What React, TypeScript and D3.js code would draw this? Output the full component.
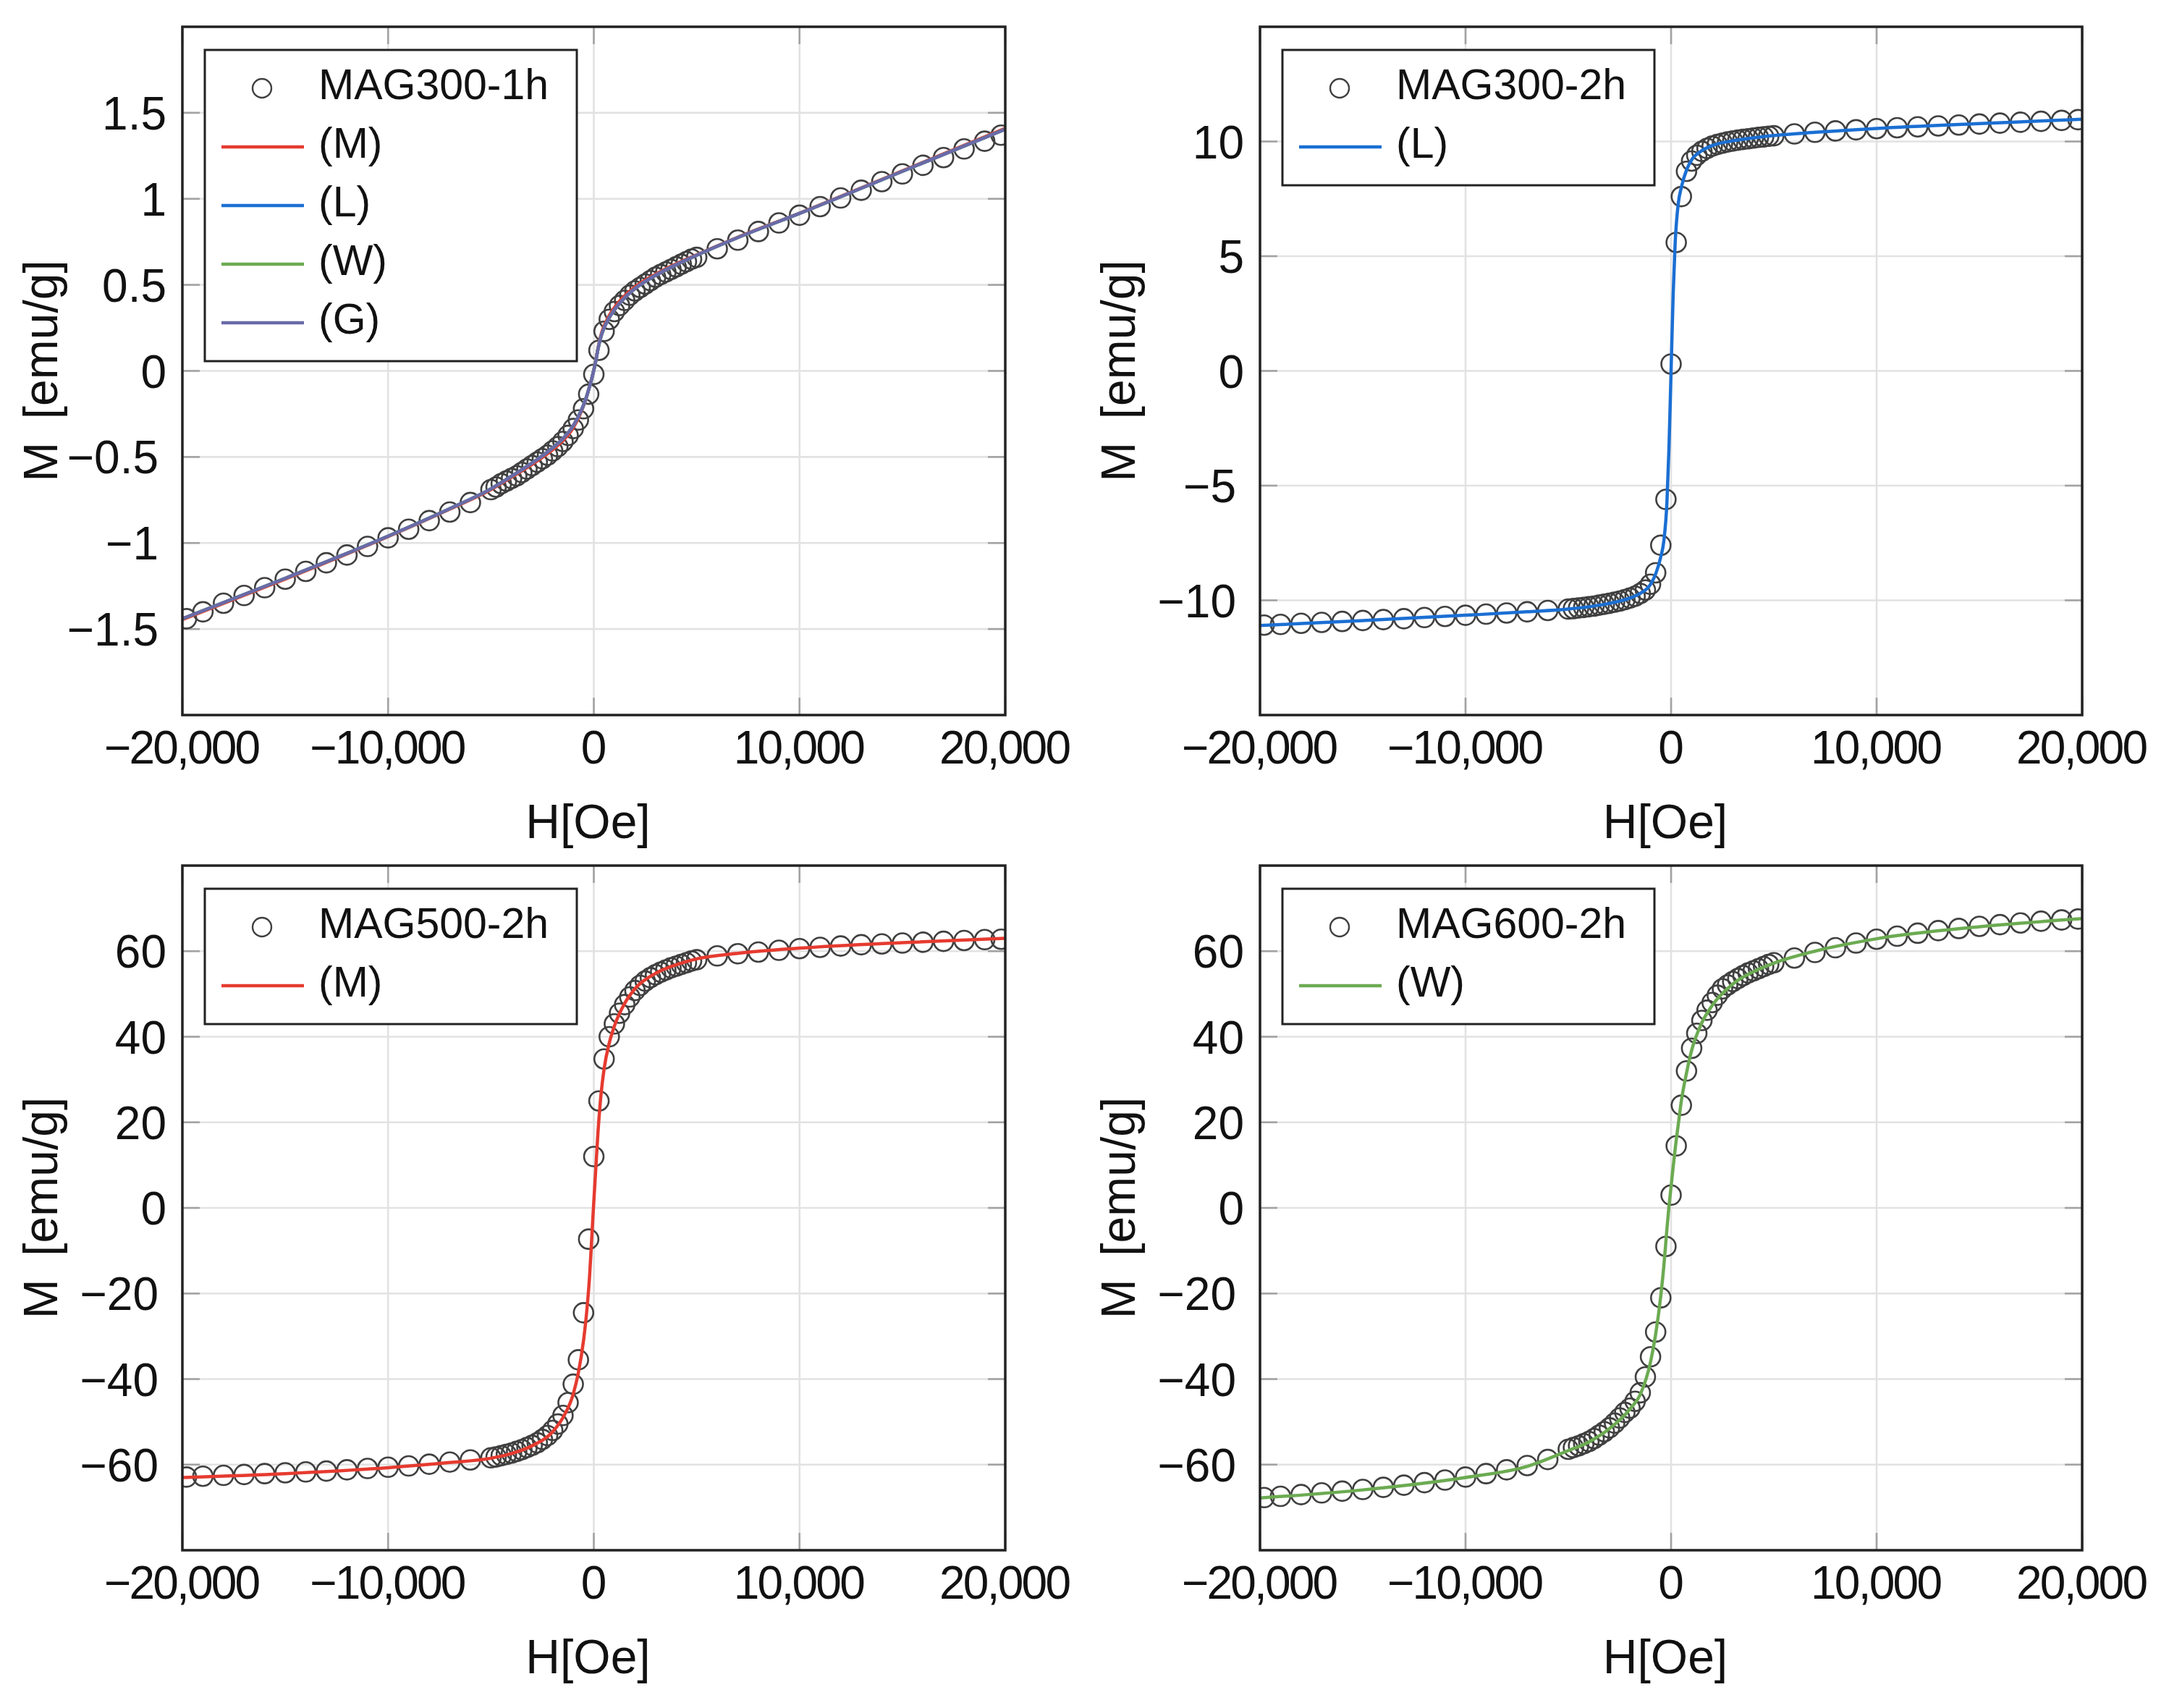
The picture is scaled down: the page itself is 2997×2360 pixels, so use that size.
import React from "react";
import * as d3 from "d3";

// applied field grid shared by the four measurements [Oe]
const fieldOe = [
  -19800, -19000, -18000, -17000, -16000, -15000, -14000, -13000, -12000, -11000, -10000, -9000, -8000, -7000, -6000,
  -5000, -4750, -4500, -4250, -4000, -3750, -3500, -3250, -3000, -2750, -2500, -2250, -2000, -1750, -1500, -1250, -1000, -750, -500, -250,
  0,
  250, 500, 750, 1000, 1250, 1500, 1750, 2000, 2250, 2500, 2750, 3000, 3250, 3500, 3750, 4000, 4250, 4500, 4750, 5000,
  6000, 7000, 8000, 9000, 10000, 11000, 12000, 13000, 14000, 15000, 16000, 17000, 18000, 19000, 19800,
];

// measured magnetisation [emu/g]
const mag300_1h = [
  -1.44, -1.4, -1.35, -1.305, -1.26, -1.21, -1.165, -1.115, -1.07, -1.02, -0.97, -0.92, -0.87, -0.82, -0.765,
  -0.69, -0.675, -0.655, -0.64, -0.625, -0.61, -0.59, -0.57, -0.55, -0.53, -0.51, -0.49, -0.465, -0.44, -0.41, -0.375, -0.335, -0.285, -0.22, -0.135,
  -0.02,
  0.12, 0.23, 0.3, 0.345, 0.38, 0.41, 0.44, 0.465, 0.485, 0.505, 0.525, 0.545, 0.56, 0.575, 0.59, 0.605, 0.62, 0.635, 0.65, 0.66,
  0.71, 0.76, 0.81, 0.86, 0.905, 0.955, 1.005, 1.05, 1.1, 1.145, 1.195, 1.24, 1.29, 1.335, 1.37,
];
const mag300_2h = [
  -11.08, -11.05, -11.0, -10.96, -10.92, -10.88, -10.84, -10.8, -10.75, -10.7, -10.65, -10.6, -10.55, -10.5, -10.44,
  -10.38, -10.36, -10.33, -10.31, -10.28, -10.25, -10.21, -10.17, -10.13, -10.08, -10.03, -9.97, -9.9, -9.82, -9.7, -9.55, -9.3, -8.8, -7.6, -5.6,
  0.3,
  5.6, 7.6, 8.7, 9.15, 9.4, 9.57, 9.7, 9.8, 9.87, 9.93, 9.98, 10.02, 10.06, 10.09, 10.12, 10.15, 10.18, 10.2, 10.23, 10.25,
  10.33, 10.4, 10.46, 10.51, 10.56, 10.6, 10.64, 10.68, 10.72, 10.76, 10.8, 10.84, 10.88, 10.92, 10.95,
];
const mag500_2h = [
  -62.9, -62.7, -62.5, -62.3, -62.1, -61.9, -61.7, -61.5, -61.2, -60.9, -60.6, -60.3, -59.9, -59.4, -58.9,
  -58.4, -58.2, -57.9, -57.6, -57.3, -56.9, -56.5, -56.0, -55.5, -54.9, -54.1, -53.2, -52.0, -50.5, -48.5, -45.5, -41.2, -35.5, -24.5, -7.3,
  12,
  25, 34.8, 40, 43, 45.5, 47.5, 49.3, 50.8, 52, 53, 53.8, 54.5, 55.1, 55.6, 56.1, 56.5, 56.9, 57.3, 57.7, 58,
  58.9, 59.4, 59.8, 60.2, 60.6, 60.9, 61.2, 61.5, 61.7, 61.9, 62.1, 62.3, 62.5, 62.7, 62.8,
];
const mag600_2h = [
  -67.7, -67.4, -67.0, -66.6, -66.2, -65.8, -65.3, -64.8, -64.2, -63.6, -62.9, -62.1, -61.2, -60.2, -58.8,
  -56.4, -56.0, -55.6, -55.1, -54.6, -53.9, -53.1, -52.3, -51.4, -50.3, -49.1, -47.8, -46.8, -45.2, -43.2, -39.5, -34.8, -29.0, -21.0, -9.0,
  3.0,
  14.5, 24.0, 32.0, 37.3, 40.8, 43.8, 46.2, 48.0, 49.7, 51.2, 52.1, 52.9, 53.6, 54.3, 54.9, 55.4, 55.9, 56.4, 56.9, 57.3,
  58.4, 59.7, 60.8, 61.9, 62.8, 63.5, 64.2, 64.8, 65.3, 65.8, 66.2, 66.6, 67.0, 67.3, 67.5,
];

// field grid of the fitted model curves [Oe]
const fitOe = [
  -20000, -15000, -10000, -7000, -5000, -4000, -3000, -2000, -1500, -1000, -750, -500, -350, -200, -100,
  0, 100, 200, 350, 500, 750, 1000, 1500, 2000, 3000, 4000, 5000, 7000, 10000, 15000, 20000,
];
const fit300_1h_M = [
  -1.445, -1.21, -0.963, -0.803, -0.69, -0.618, -0.543, -0.458, -0.405, -0.33, -0.275, -0.203, -0.15, -0.087, -0.043,
  0.005, 0.065, 0.13, 0.21, 0.262, 0.322, 0.368, 0.437, 0.488, 0.562, 0.622, 0.675, 0.777, 0.917, 1.163, 1.41,
];
const fit300_1h_G = [
  -1.44, -1.205, -0.96, -0.8, -0.685, -0.612, -0.535, -0.447, -0.393, -0.318, -0.265, -0.198, -0.148, -0.088, -0.045,
  0.005, 0.06, 0.125, 0.2, 0.25, 0.31, 0.355, 0.425, 0.478, 0.555, 0.617, 0.672, 0.775, 0.915, 1.16, 1.405,
];
const fit300_2h_L = [
  -11.1, -10.88, -10.65, -10.5, -10.38, -10.28, -10.13, -9.9, -9.7, -9.3, -8.85, -8.1, -7.4, -5.7, -3.3,
  0, 3.3, 5.6, 7.3, 8.0, 8.75, 9.2, 9.6, 9.82, 10.03, 10.16, 10.26, 10.4, 10.57, 10.78, 10.97,
];
const fit500_2h_M = [
  -63.0, -62.1, -60.7, -59.5, -58.5, -57.4, -55.6, -52.3, -49.0, -43.5, -38.5, -31, -24.5, -15.5, -7,
  1.5, 9.5, 17.5, 26.5, 32.5, 38.5, 42.5, 47.8, 51.2, 54.8, 56.8, 58.2, 59.5, 60.7, 62.0, 63.0,
];
const fit600_2h_W = [
  -67.8, -65.9, -63.0, -60.4, -56.7, -54.7, -51.6, -47.0, -43.6, -36.0, -29.5, -20.5, -13.5, -4.8, 0.5,
  5.0, 9.5, 13.8, 19.5, 25.0, 31.5, 36.8, 43.3, 47.3, 52.3, 55.2, 57.2, 60.0, 62.9, 65.7, 67.6,
];

// axis ticks
const xTicks = [-20000, -10000, 0, 10000, 20000];
const yTicks300_1h = [-1.5, -1, -0.5, 0, 0.5, 1, 1.5];
const yTicks300_2h = [-10, -5, 0, 5, 10];
const yTicksHigh = [-60, -40, -20, 0, 20, 40, 60];

const RED = "#e63b30";
const BLUE = "#1b6fd3";
const GREEN = "#6cab52";
const PURPLE = "#6a6aa9";
const FONT = "'Liberation Sans', Arial, Helvetica, sans-serif";
const TICK_FS = 64;
const TITLE_FS = 66;
const LEGEND_FS = 59;

type Fit = { label: string; color: string; values: number[] };
type PanelSpec = {
  id: string;
  x0: number; x1: number; y0: number; y1: number;
  yDomain: [number, number];
  yTicks: number[];
  sample: string;
  data: number[];
  fits: Fit[];
};

const panels: PanelSpec[] = [
  {
    id: "p1", x0: 252, x1: 1389, y0: 37, y1: 988, yDomain: [-2, 2], yTicks: yTicks300_1h,
    sample: "MAG300-1h", data: mag300_1h,
    fits: [
      { label: "(M)", color: RED, values: fit300_1h_M },
      { label: "(L)", color: BLUE, values: fit300_1h_G },
      { label: "(W)", color: GREEN, values: fit300_1h_G },
      { label: "(G)", color: PURPLE, values: fit300_1h_G },
    ],
  },
  {
    id: "p2", x0: 1741, x1: 2877, y0: 37, y1: 988, yDomain: [-15, 15], yTicks: yTicks300_2h,
    sample: "MAG300-2h", data: mag300_2h,
    fits: [{ label: "(L)", color: BLUE, values: fit300_2h_L }],
  },
  {
    id: "p3", x0: 252, x1: 1389, y0: 1196, y1: 2142, yDomain: [-80, 80], yTicks: yTicksHigh,
    sample: "MAG500-2h", data: mag500_2h,
    fits: [{ label: "(M)", color: RED, values: fit500_2h_M }],
  },
  {
    id: "p4", x0: 1741, x1: 2877, y0: 1196, y1: 2142, yDomain: [-80, 80], yTicks: yTicksHigh,
    sample: "MAG600-2h", data: mag600_2h,
    fits: [{ label: "(W)", color: GREEN, values: fit600_2h_W }],
  },
];

const minus = (v: number) => (v < 0 ? "\u2212" : "");
const fmtX = (v: number) => minus(v) + d3.format(",")(Math.abs(v));
const fmtY = (v: number) => minus(v) + String(Math.abs(v));
// the thousands comma sits tight between the digits, as in the original
const xLabelWidth = (v: number) => (v === 0 ? undefined : v < 0 ? 216 : 182);

function Panel({ p }: { p: PanelSpec }) {
  const x = d3.scaleLinear().domain([-20000, 20000]).range([p.x0, p.x1]);
  const y = d3.scaleLinear().domain(p.yDomain).range([p.y1, p.y0]);
  const line = d3
    .line<number>()
    .x((_, i) => x(fitOe[i]))
    .y((d) => y(d))
    .curve(d3.curveMonotoneX);
  const tickLen = 24;
  const cx = (p.x0 + p.x1) / 2;
  const cy = (p.y0 + p.y1) / 2;

  const lx = p.x0 + 31;
  const ly = p.y0 + 32;
  const rows = 1 + p.fits.length;
  const lh = 53 + (rows - 1) * 81 + 53;
  const rowY = (i: number) => ly + 53 + i * 81;

  return (
    <g>
      <defs>
        <clipPath id={`clip-${p.id}`}>
          <rect x={p.x0} y={p.y0} width={p.x1 - p.x0} height={p.y1 - p.y0} />
        </clipPath>
      </defs>
      {/* grid */}
      {xTicks.map((t) => (
        <line key={`gx${t}`} x1={x(t)} x2={x(t)} y1={p.y0} y2={p.y1} stroke="#e2e2e2" strokeWidth={2.6} />
      ))}
      {p.yTicks.map((t) => (
        <line key={`gy${t}`} x1={p.x0} x2={p.x1} y1={y(t)} y2={y(t)} stroke="#e2e2e2" strokeWidth={2.6} />
      ))}
      {/* inner ticks */}
      {xTicks.map((t) => (
        <g key={`tx${t}`} stroke="#a3a3a3" strokeWidth={2.6}>
          <line x1={x(t)} x2={x(t)} y1={p.y1} y2={p.y1 - tickLen} />
          <line x1={x(t)} x2={x(t)} y1={p.y0} y2={p.y0 + tickLen} />
        </g>
      ))}
      {p.yTicks.map((t) => (
        <g key={`ty${t}`} stroke="#a3a3a3" strokeWidth={2.6}>
          <line x1={p.x0} x2={p.x0 + tickLen} y1={y(t)} y2={y(t)} />
          <line x1={p.x1} x2={p.x1 - tickLen} y1={y(t)} y2={y(t)} />
        </g>
      ))}
      <g clipPath={`url(#clip-${p.id})`}>
        {p.data.map((m, i) => (
          <circle key={i} cx={x(fieldOe[i])} cy={y(m)} r={13.5} fill="none" stroke="#404040" strokeWidth={2.6} />
        ))}
        {p.fits.map((f) => (
          <path key={f.label} d={line(f.values) || ""} fill="none" stroke={f.color} strokeWidth={4.5} />
        ))}
      </g>
      {/* legend */}
      <rect x={lx} y={ly} width={514} height={lh} fill="#fff" stroke="#222" strokeWidth={3} />
      <circle cx={lx + 79} cy={rowY(0)} r={13} fill="none" stroke="#404040" strokeWidth={2.4} />
      <text x={lx + 157} y={rowY(0) + 15} fontFamily={FONT} fontSize={LEGEND_FS} fill="#111">
        {p.sample}
      </text>
      {p.fits.map((f, i) => (
        <g key={`lg${f.label}`}>
          <line x1={lx + 23} x2={lx + 137} y1={rowY(i + 1)} y2={rowY(i + 1)} stroke={f.color} strokeWidth={4.5} />
          <text x={lx + 157} y={rowY(i + 1) + 15} fontFamily={FONT} fontSize={LEGEND_FS} fill="#111">
            {f.label}
          </text>
        </g>
      ))}
      {/* frame */}
      <rect x={p.x0} y={p.y0} width={p.x1 - p.x0} height={p.y1 - p.y0} fill="none" stroke="#222" strokeWidth={3.5} />
      {/* tick labels */}
      {xTicks.map((t) => (
        <text
          key={`lx${t}`}
          x={x(t)}
          y={p.y1 + 67}
          textAnchor="middle"
          fontFamily={FONT}
          fontSize={TICK_FS}
          fill="#111"
          textLength={xLabelWidth(t)}
          lengthAdjust="spacing"
        >
          {fmtX(t)}
        </text>
      ))}
      {p.yTicks.map((t) => (
        <text
          key={`ly${t}`}
          x={p.x0 - (t < 0 ? 33 : 22)}
          y={y(t) + 23}
          textAnchor="end"
          fontFamily={FONT}
          fontSize={TICK_FS}
          fill="#111"
        >
          {fmtY(t)}
        </text>
      ))}
      {/* axis titles */}
      <text x={cx - 8} y={p.y1 + 170} textAnchor="middle" fontFamily={FONT} fontSize={TITLE_FS} fill="#111">
        H[Oe]
      </text>
      <text
        transform={`translate(${p.x0 - 196},${cy}) rotate(-90)`}
        y={23}
        textAnchor="middle"
        fontFamily={FONT}
        fontSize={TITLE_FS}
        fill="#111"
      >
        {"M\u2009 [emu/g]"}
      </text>
    </g>
  );
}

export default function App() {
  return (
    <svg
      width={2997}
      height={2360}
      viewBox="0 0 2997 2360"
      style={{ position: "absolute", left: 0, top: 0, background: "#fff" }}
    >
      <rect width={2997} height={2360} fill="#fff" />
      {panels.map((p) => (
        <Panel key={p.id} p={p} />
      ))}
    </svg>
  );
}
